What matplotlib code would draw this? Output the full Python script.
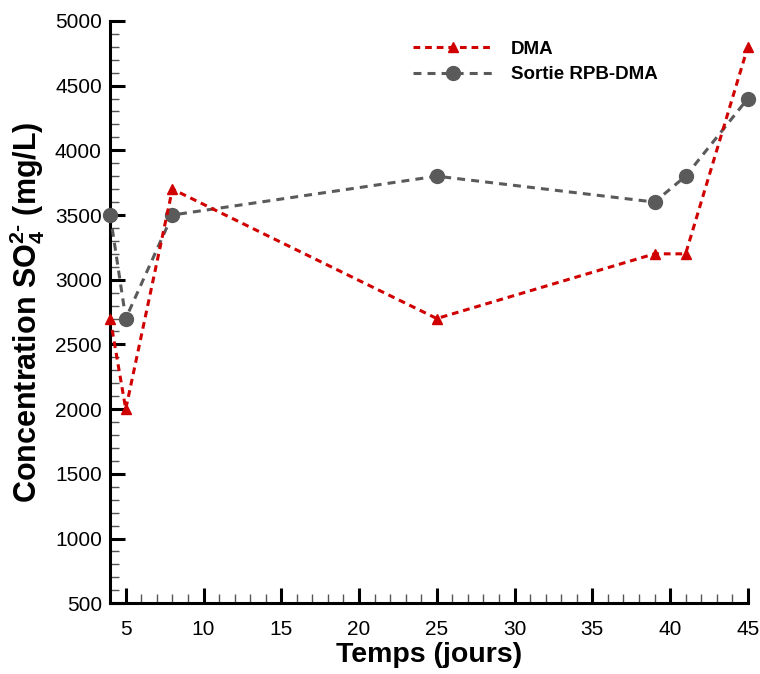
import numpy as np
import matplotlib
matplotlib.use('Agg')
import matplotlib.pyplot as plt
from matplotlib.ticker import MultipleLocator

plt.rcParams['font.family'] = ['Liberation Sans', 'DejaVu Sans']
plt.rcParams['mathtext.fontset'] = 'custom'
plt.rcParams['mathtext.rm'] = 'Liberation Sans:bold'
plt.rcParams['mathtext.bf'] = 'Liberation Sans:bold'
plt.rcParams['mathtext.default'] = 'bf'

# data
jours = [4, 5, 8, 25, 39, 41, 45]
dma = [2700, 2000, 3700, 2700, 3200, 3200, 4800]
sortie = [3500, 2700, 3500, 3800, 3600, 3800, 4400]
xticks = [5, 10, 15, 20, 25, 30, 35, 40, 45]
yticks = [500, 1000, 1500, 2000, 2500, 3000, 3500, 4000, 4500, 5000]

fig = plt.figure(figsize=(7.6, 6.74), dpi=100)
ax = fig.add_axes([0.145, 0.105, 0.839, 0.864])

ax.plot(jours, dma, color='#d10000', linestyle=(0, (2.2, 1.6)), linewidth=2.2,
        marker='^', markersize=7, label='DMA', zorder=4, clip_on=False)
ax.plot(jours, sortie, color='#5a5a5a', linestyle=(0, (2.6, 2.0)), linewidth=2.2,
        marker='o', markersize=10, label='Sortie RPB-DMA', zorder=3, clip_on=False)

ax.set_xlim(4, 45)
ax.set_ylim(500, 5000)
ax.set_xticks(xticks)
ax.set_yticks(yticks)
ax.xaxis.set_minor_locator(MultipleLocator(1))
ax.yaxis.set_minor_locator(MultipleLocator(100))

for s in ['top', 'right']:
    ax.spines[s].set_visible(False)
for s in ['left', 'bottom']:
    ax.spines[s].set_linewidth(2.2)

ax.tick_params(which='major', direction='in', length=11, width=2.2, labelsize=15, pad=6)
ax.tick_params(which='minor', direction='in', length=6.5, width=1.0, color='#555555')
ax.tick_params(axis='x', which='major', pad=12)

ax.set_xlabel('Temps (jours)', fontsize=20.5, fontweight='bold', labelpad=2)
ax.set_ylabel(r'Concentration SO$_4^{2\text{-}}$ (mg/L)', fontsize=22, fontweight='bold', labelpad=6)

leg = ax.legend(loc='upper left', bbox_to_anchor=(0.448, 0.995), frameon=False,
                prop={'size': 13.5, 'weight': 'bold'}, handlelength=4.3, handletextpad=0.95,
                labelspacing=0.45)

fig.savefig('out.png', dpi=100)
